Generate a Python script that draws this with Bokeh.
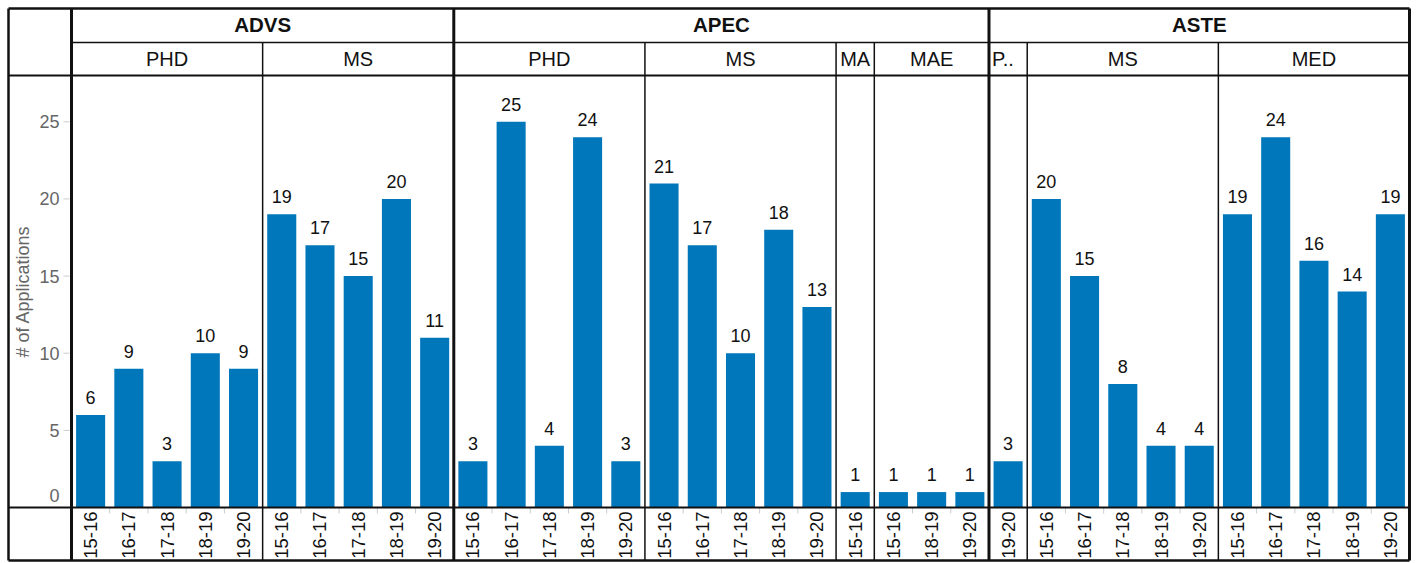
import math
from bokeh.plotting import figure
from bokeh.models import Range1d, ColumnDataSource
from bokeh.core.properties import value
from bokeh.embed import file_html
from bokeh.resources import INLINE

# ---------------- data ----------------
group_dept = ["ADVS", "ADVS", "APEC", "APEC", "APEC", "APEC", "ASTE", "ASTE", "ASTE"]
group_degree = ["PHD", "MS", "PHD", "MS", "MA", "MAE", "PHD", "MS", "MED"]
years_all = ["15-16", "16-17", "17-18", "18-19", "19-20"]
group_years = [
    years_all,
    years_all,
    years_all,
    years_all,
    ["15-16"],
    ["15-16", "18-19", "19-20"],
    ["19-20"],
    years_all,
    years_all,
]
group_values = [
    [6, 9, 3, 10, 9],
    [19, 17, 15, 20, 11],
    [3, 25, 4, 24, 3],
    [21, 17, 10, 18, 13],
    [1],
    [1, 1, 1],
    [3],
    [20, 15, 8, 4, 4],
    [19, 24, 16, 14, 19],
]
y_ticks = [0, 5, 10, 15, 20, 25]
y_max = 28
y_title = "# of Applications"

# ---------------- layout (pixels inside the figure) ----------------
W, H = 1413, 563
XL, XP, XR = 8, 71, 1409          # outer left, plot left, right edge
YT, YH1, YH, YB, YF = 8, 42, 75, 507, 560

n_bars = sum(len(v) for v in group_values)
cell = (XR - XP) / n_bars
unit = (YB - YH) / y_max


def X(px):
    return (px - XP) / cell


def Y(py):
    return (YB - py) / unit


FONT = value("Liberation Sans")
BAR_COLOR = "#0077BA"

p = figure(width=W, height=H, output_backend="svg", toolbar_location=None,
           x_range=Range1d(X(0), X(W)), y_range=Range1d(Y(H), Y(0)),
           x_axis_location=None, y_axis_location=None, min_border=0)
p.grid.visible = False
p.outline_line_color = None
p.background_fill_color = "white"
p.border_fill_color = "white"

# flatten
xs, vals, yrs = [], [], []
group_start, group_end = [], []
i = 0
for yl, vl in zip(group_years, group_values):
    group_start.append(i)
    for yy, vv in zip(yl, vl):
        xs.append(i + 0.5)
        vals.append(vv)
        yrs.append(yy)
        i += 1
    group_end.append(i)

dept_names, dept_start, dept_end = [], [], []
for d, s, e in zip(group_dept, group_start, group_end):
    if dept_names and dept_names[-1] == d:
        dept_end[-1] = e
    else:
        dept_names.append(d)
        dept_start.append(s)
        dept_end.append(e)

# bars
src = ColumnDataSource(dict(x=xs, top=vals, lab=[str(v) for v in vals], yr=yrs,
                            ylab=[v + 11 / unit for v in vals]))
p.vbar(x="x", top="top", bottom=0, width=0.76, source=src,
       fill_color=BAR_COLOR, line_color=None)
p.text(x="x", y="ylab", text="lab", source=src, text_font=FONT,
       text_font_size="18px", text_color="#111111", text_align="center",
       text_baseline="bottom")

# x labels (rotated)
p.text(x="x", y=Y(YB + 4), text="yr", source=src, angle=math.pi / 2,
       text_font=FONT, text_font_size="18.5px", text_color="#111111",
       text_align="right", text_baseline="middle")

# x tick marks between bars inside groups
tx = []
for s, e in zip(group_start, group_end):
    tx += list(range(s + 1, e))
p.segment(x0=tx, y0=[Y(YB)] * len(tx), x1=tx, y1=[Y(YB + 6)] * len(tx),
          line_color="#cccccc", line_width=1)

# y ticks and labels
p.segment(x0=[X(XP - 8)] * len(y_ticks), y0=y_ticks, x1=[X(XP - 2)] * len(y_ticks),
          y1=y_ticks, line_color="#cccccc", line_width=1)
p.text(x=[X(XP - 12)] * len(y_ticks), y=[max(t, 12 / unit) for t in y_ticks],
       text=[str(t) for t in y_ticks], text_font=FONT, text_font_size="18px",
       text_color="#666666", text_align="right", text_baseline="middle")
p.text(x=[X(22)], y=[y_max / 2], text=[y_title], angle=math.pi / 2,
       text_font=FONT, text_font_size="18px", text_color="#666666",
       text_align="center", text_baseline="middle")

# headers
p.text(x=[(s + e) / 2 for s, e in zip(dept_start, dept_end)],
       y=[Y((YT + YH1) / 2 - 1)] * len(dept_names), text=dept_names,
       text_font=FONT, text_font_size="20.5px", text_font_style="bold",
       text_color="#111111", text_align="center", text_baseline="middle")
deg_labels = [d if (e - s) > 1 or len(d) <= 2 else d[0] + ".."
              for d, s, e in zip(group_degree, group_start, group_end)]
deg_x = [(s + e) / 2 if (e - s) > 1 or len(d) <= 2 else s + 0.08
         for d, s, e in zip(group_degree, group_start, group_end)]
deg_align = ["center" if (e - s) > 1 or len(d) <= 2 else "left"
             for d, s, e in zip(group_degree, group_start, group_end)]
p.text(x=deg_x, y=[Y((YH1 + YH) / 2)] * len(deg_labels), text=deg_labels,
       text_font=FONT, text_font_size="20px", text_color="#111111",
       text_align=deg_align, text_baseline="middle")

# frame lines
hx0 = [X(XL), X(XL), X(XP), X(XL), X(XL)]
hx1 = [X(XR), X(XR), X(XR), X(XR), X(XR)]
hy = [Y(YT), Y(YF), Y(YH1), Y(YH), Y(YB)]
hw = [2.5, 2.5, 1.5, 2, 2]
p.segment(x0=hx0, y0=hy, x1=hx1, y1=hy, line_color="#111111", line_width=hw)
p.segment(x0=[X(XL)], y0=[Y(YT)], x1=[X(XL)], y1=[Y(YF)], line_color="#111111",
          line_width=2.5)

dept_bounds = sorted(set(dept_start + dept_end))
p.segment(x0=dept_bounds, y0=[Y(YT)] * len(dept_bounds), x1=dept_bounds,
          y1=[Y(YF)] * len(dept_bounds), line_color="#111111", line_width=3)
deg_bounds = [b for b in sorted(set(group_start + group_end)) if b not in dept_bounds]
p.segment(x0=deg_bounds, y0=[Y(YH1)] * len(deg_bounds), x1=deg_bounds,
          y1=[Y(YF)] * len(deg_bounds), line_color="#111111", line_width=1.5)

open("out.html", "w").write(file_html(p, INLINE))
